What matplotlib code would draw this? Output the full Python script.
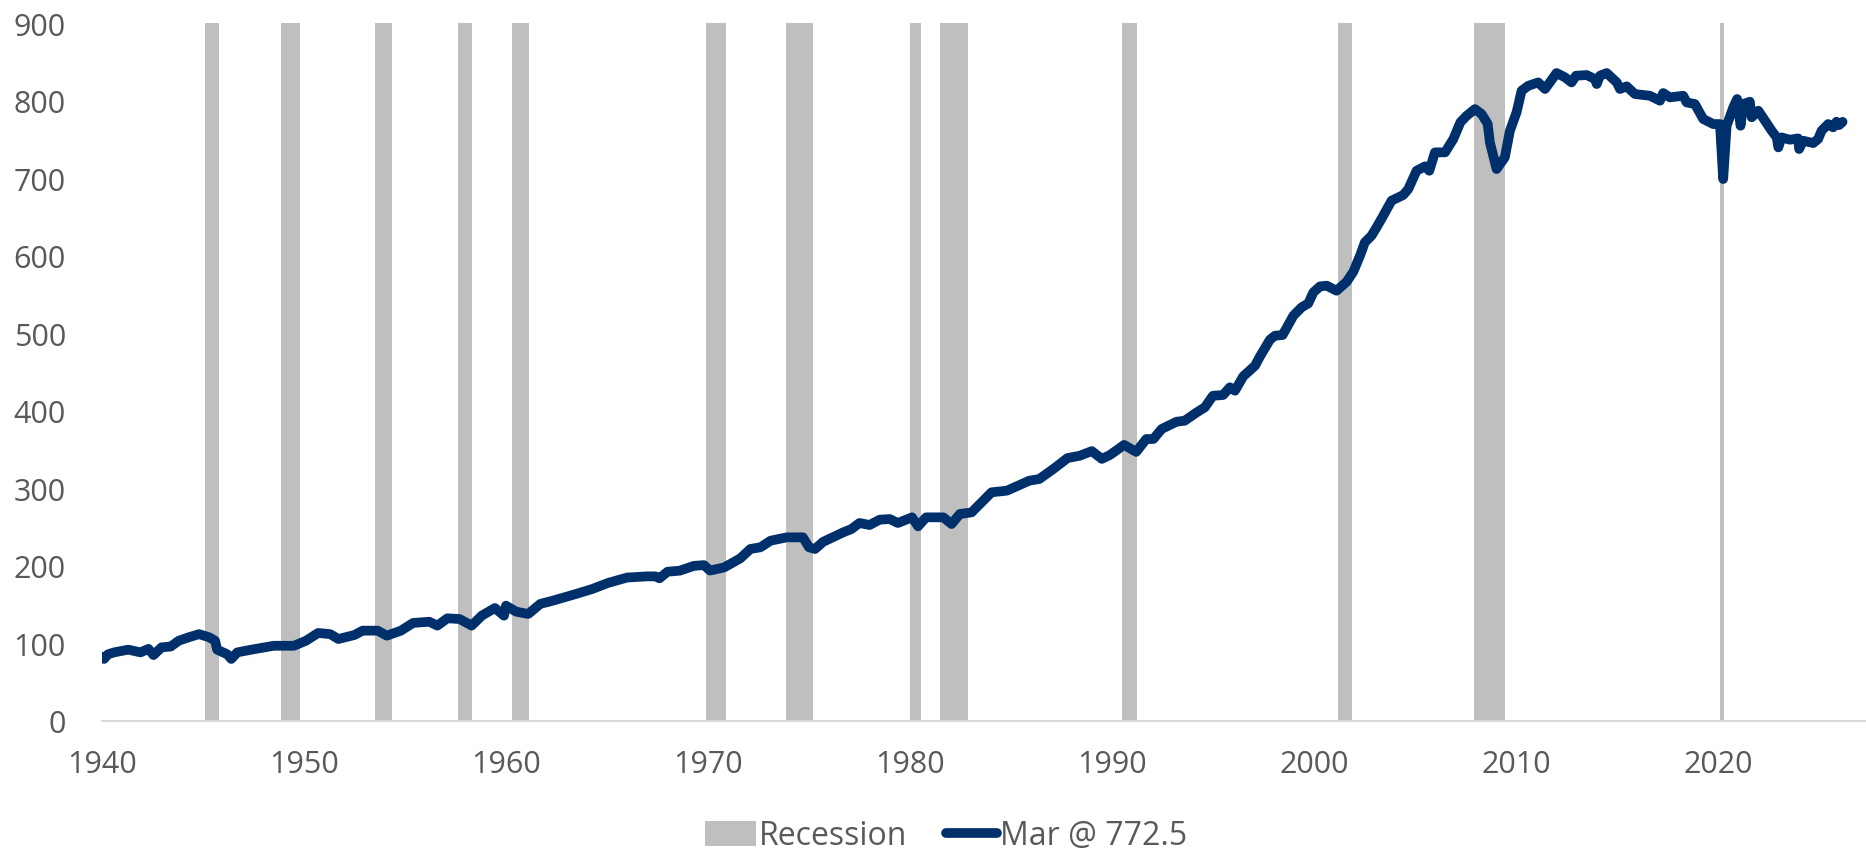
import matplotlib
matplotlib.use("Agg")
import matplotlib.pyplot as plt
from matplotlib.patches import Patch
from matplotlib.lines import Line2D

# ---- data (decimal years) ----
years = [1940.0, 1940.1, 1940.3, 1940.6, 1941.3, 1941.9, 1942.3, 1942.55, 1942.95, 1943.4,
         1943.8, 1944.3, 1944.8, 1945.3, 1945.6, 1945.7, 1946.2, 1946.4, 1946.7, 1947.4,
         1948.5, 1949.5, 1950.1, 1950.7, 1951.3, 1951.7, 1952.5, 1952.9, 1953.65, 1954.1,
         1954.8, 1955.4, 1956.2, 1956.6, 1957.1, 1957.7, 1958.3, 1958.8, 1959.45, 1959.9,
         1960.0, 1960.5, 1961.1, 1961.7, 1962.3, 1963.45, 1964.25, 1965.05, 1966.0, 1967.0,
         1967.4, 1967.6, 1968.0, 1968.6, 1969.3, 1969.8, 1970.1, 1970.8, 1971.6, 1972.1,
         1972.6, 1973.1, 1973.9, 1974.7, 1975.0, 1975.3, 1975.7, 1976.7, 1977.1, 1977.5,
         1978.0, 1978.5, 1979.0, 1979.4, 1980.1, 1980.4, 1980.8, 1981.65, 1982.06, 1982.47,
         1983.05, 1984.04, 1984.8, 1985.9, 1986.4, 1987.1, 1987.8, 1988.4, 1989.0, 1989.5,
         1989.9, 1990.6, 1991.2, 1991.7, 1992.05, 1992.46, 1993.2, 1993.6, 1994.2, 1994.6,
         1995.0, 1995.5, 1995.84, 1996.09, 1996.5, 1997.08, 1997.33, 1997.82, 1998.07, 1998.45,
         1998.98, 1999.39, 1999.72, 1999.97, 2000.3, 2000.63, 2001.12, 2001.62, 2001.95, 2002.28,
         2002.52, 2002.85, 2003.1, 2003.43, 2003.84, 2004.42, 2004.67, 2005.08, 2005.5, 2005.71,
         2005.99, 2006.49, 2006.9, 2007.25, 2007.56, 2007.97, 2008.3, 2008.6, 2008.71, 2009.04,
         2009.45, 2009.7, 2010.03, 2010.28, 2010.61, 2011.1, 2011.44, 2012.01, 2012.43, 2012.75,
         2012.97, 2013.5, 2013.91, 2014.0, 2014.16, 2014.49, 2014.99, 2015.15, 2015.48, 2015.89,
         2016.63, 2017.13, 2017.29, 2017.62, 2018.28, 2018.45, 2018.86, 2019.27, 2019.77, 2020.1,
         2020.26, 2020.43, 2020.76, 2020.95, 2021.12, 2021.25, 2021.58, 2021.67, 2022.0, 2022.33,
         2022.66, 2022.91, 2022.99, 2023.15, 2023.56, 2023.97, 2024.02, 2024.22, 2024.72, 2024.96,
         2025.13, 2025.46, 2025.7, 2025.87, 2026.0, 2026.17]

values = [83, 80, 86, 88.5, 92, 88.5, 93, 85, 95, 96,
          103.5, 108, 112, 108, 103.5, 92, 86, 80, 88.5, 92,
          97, 97, 103.5, 113.5, 112, 105.7, 110.9, 116.5, 116.5, 110,
          116.5, 126.4, 128, 123, 132.4, 131.5, 123, 135.8, 145.7, 135.8,
          148.7, 141, 138, 151, 155, 163.7, 170, 178, 185, 186.5,
          186.5, 184, 192.5, 193.8, 200, 201, 194, 198, 209.7, 221.8,
          224, 232.5, 236.8, 236.8, 224, 221.8, 231, 243.3, 247.5, 255.3,
          252.7, 259.6, 260.4, 255.3, 262.6, 251, 262.6, 262.6, 254, 266.9,
          269, 294.9, 297, 309.8, 312, 325, 339, 342, 348, 338,
          343, 356, 347, 363.6, 363.6, 376.5, 385.9, 387.2, 398, 404.5,
          419.4, 420.3, 430.2, 425.9, 444.4, 458.1, 470.2, 491.6, 496.8, 497.7,
          522.6, 533.4, 538.5, 552.7, 560.4, 561.3, 554.8, 566.4, 579.3, 600,
          617.2, 625.8, 636.5, 651.5, 670.9, 678.2, 685.9, 709.5, 715.2, 709.5,
          733.2, 733.2, 750.4, 772, 780.4, 789, 782.6, 770, 746, 711.7,
          726.8, 761, 784.8, 812.7, 819, 823.4, 814.9, 835.5, 829.9, 823.4,
          832, 832.9, 827.7, 821.3, 832, 835.5, 823.4, 814.9, 818.3, 808.4,
          806.2, 799.8, 809.7, 804.1, 806.2, 797.6, 795.5, 776.2, 769.7, 769.7,
          698.8, 767.5, 791.3, 802, 767.5, 795.5, 798.5, 778.4, 786.9, 774,
          761.1, 752.5, 739.6, 752.5, 749.5, 751.2, 737.5, 748.2, 745.2, 750.4,
          761.1, 769.7, 765.5, 772.7, 768.4, 772.5]

rec_start = [1945.08, 1948.88, 1953.5, 1957.62, 1960.28, 1969.92, 1973.85, 1980.0, 1981.5,
             1990.5, 2001.17, 2007.92, 2020.08]
rec_end = [1945.8, 1949.8, 1954.38, 1958.3, 1961.12, 1970.88, 1975.2, 1980.55, 1982.88,
           1991.22, 2001.88, 2009.48, 2020.3]

x_ticks = [1940, 1950, 1960, 1970, 1980, 1990, 2000, 2010, 2020]
y_ticks = [0, 100, 200, 300, 400, 500, 600, 700, 800, 900]

series_label = "Mar @ 772.5"
rec_label = "Recession"

# ---- style ----
LINE_C = "#00306B"
REC_C = "#BFBFBF"
TXT_C = "#595959"
FONT = ["Open Sans", "DejaVu Sans"]
plt.rcParams["font.family"] = FONT

fig = plt.figure(figsize=(18.66, 8.54), dpi=100)
ax = fig.add_axes([102 / 1866, 132 / 854, 1 - 102 / 1866, (722 - 24) / 854])

for s, e in zip(rec_start, rec_end):
    ax.axvspan(s, e, ymin=0, ymax=1, color=REC_C, lw=0, zorder=1)

ax.plot(years, values, color=LINE_C, lw=7, solid_capstyle="round",
        solid_joinstyle="round", zorder=3)

ax.set_xlim(1940, 2027.33)
ax.set_ylim(0, 900)
ax.set_xticks(x_ticks)
ax.set_xticklabels([str(t) for t in x_ticks])
ax.set_yticks(y_ticks)
ax.set_yticklabels([str(t) for t in y_ticks])

for sp in ["top", "right", "left"]:
    ax.spines[sp].set_visible(False)
ax.spines["bottom"].set_color("#D9D9D9")
ax.spines["bottom"].set_linewidth(1.5)
ax.spines["bottom"].set_zorder(2)

ax.tick_params(axis="both", length=0, colors=TXT_C, labelsize=22)
ax.tick_params(axis="y", pad=26)
ax.tick_params(axis="x", pad=20)

handles = [Patch(facecolor=REC_C, edgecolor="none"),
           Line2D([0], [0], color=LINE_C, lw=7, solid_capstyle="round")]
leg = fig.legend(handles, [rec_label, series_label], loc="center",
                 bbox_to_anchor=(0.507, 0.02), ncol=2, frameon=False,
                 fontsize=23, handlelength=1.6, handleheight=0.8,
                 handletextpad=0.1, columnspacing=1.2, borderaxespad=0)
for t in leg.get_texts():
    t.set_color(TXT_C)

fig.savefig("out.png", dpi=100)
